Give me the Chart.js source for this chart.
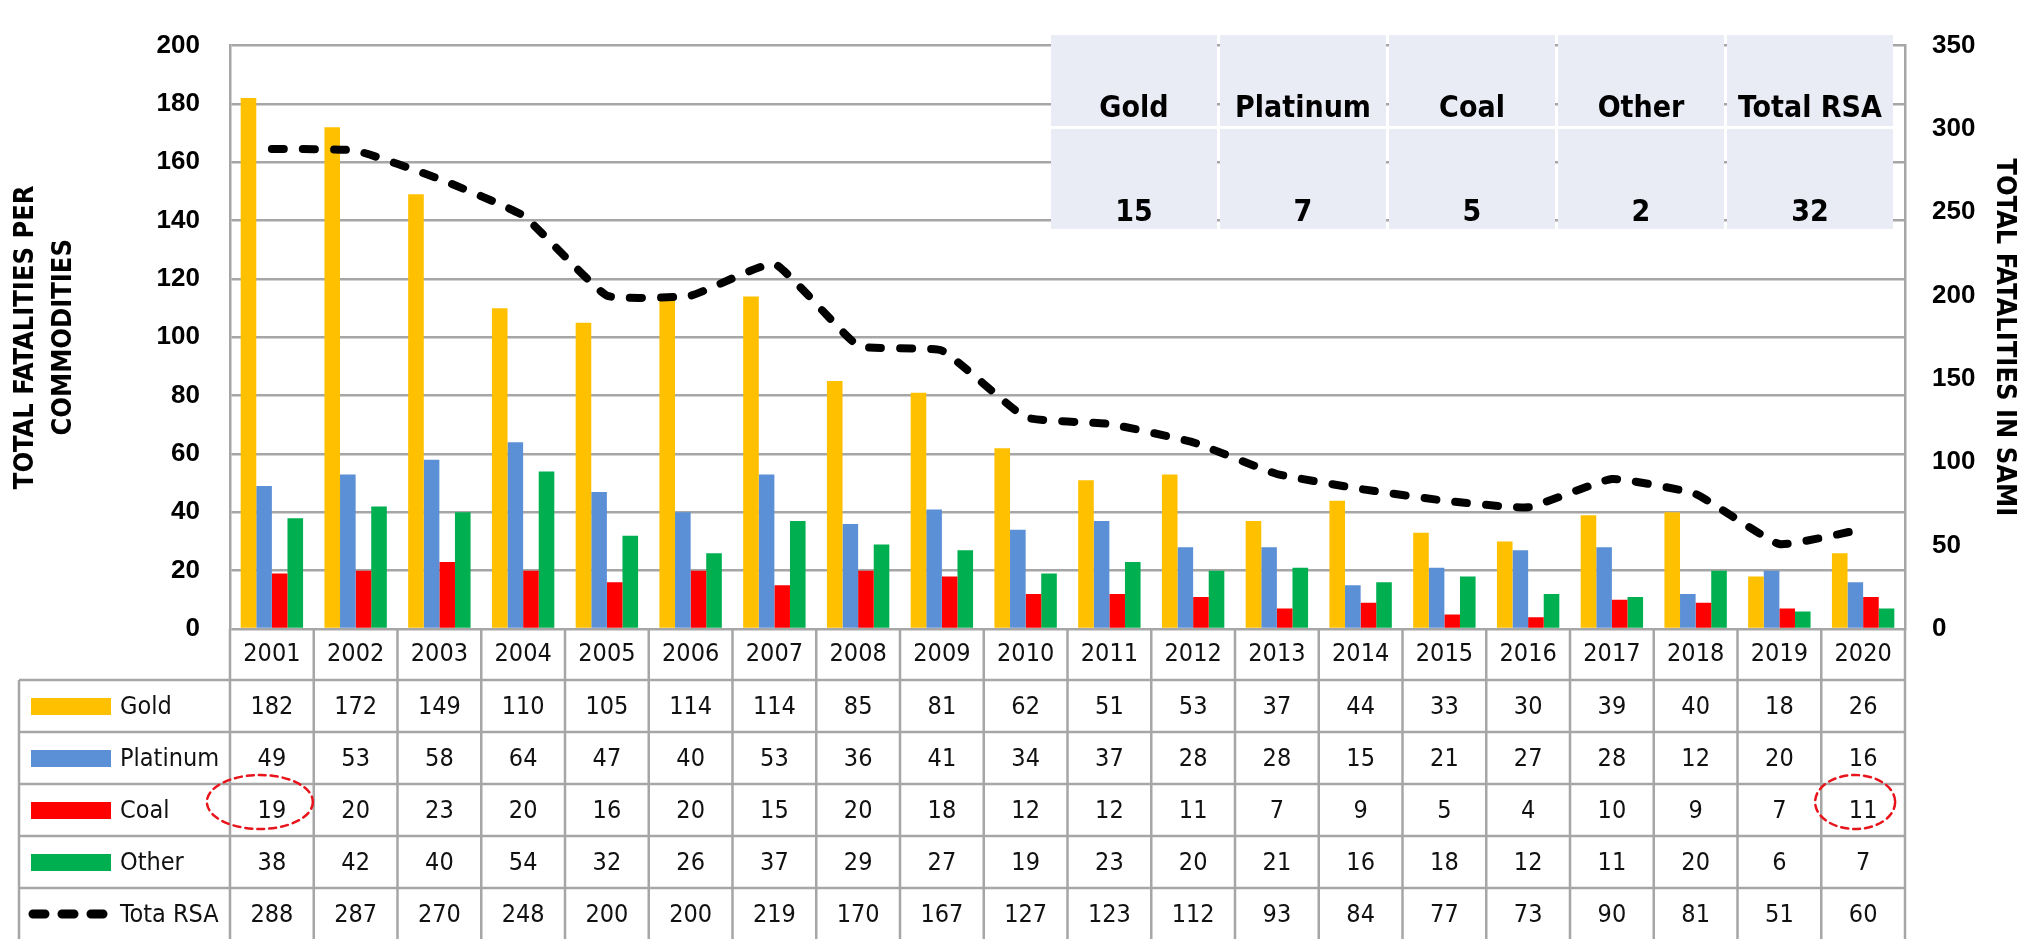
<!DOCTYPE html>
<html>
<head>
<meta charset="utf-8">
<script src="https://cdn.jsdelivr.net/npm/chart.js@4.4.1/dist/chart.umd.min.js"></script>
<style>
  html, body { margin: 0; padding: 0; background: #fff; }
  #wrap { width: 2030px; height: 939px; }
</style>
</head>
<body>
<div id="wrap"><canvas id="fatalities-chart" width="2030" height="939"></canvas></div>
<script>
// data
const years = ['2001', '2002', '2003', '2004', '2005', '2006', '2007', '2008', '2009', '2010',
               '2011', '2012', '2013', '2014', '2015', '2016', '2017', '2018', '2019', '2020'];
const gold     = [182, 172, 149, 110, 105, 114, 114, 85, 81, 62, 51, 53, 37, 44, 33, 30, 39, 40, 18, 26];
const platinum = [49, 53, 58, 64, 47, 40, 53, 36, 41, 34, 37, 28, 28, 15, 21, 27, 28, 12, 20, 16];
const coal     = [19, 20, 23, 20, 16, 20, 15, 20, 18, 12, 12, 11, 7, 9, 5, 4, 10, 9, 7, 11];
const other    = [38, 42, 40, 54, 32, 26, 37, 29, 27, 19, 23, 20, 21, 16, 18, 12, 11, 20, 6, 7];
const totalRSA = [288, 287, 270, 248, 200, 200, 219, 170, 167, 127, 123, 112, 93, 84, 77, 73, 90, 81, 51, 60];

const rowLabels = ['Gold', 'Platinum', 'Coal', 'Other', 'Tota RSA'];
const insetLabels = ['Gold', 'Platinum', 'Coal', 'Other', 'Total RSA'];
const insetValues = [15, 7, 5, 2, 32];
const circledCells = [[2, 0], [2, 19]]; // [row, column] of the red rings

const colors = ['#FFC000', '#5B8FD6', '#FF0000', '#00B050', '#000000'];
const gridGrey = '#A6A6A6';
const condensed = "'DejaVu Sans Condensed', 'DejaVu Sans', sans-serif";

// table under the chart + inset table + red rings
const tablePlugin = {
    id: 'dataTable',
    afterDatasetsDraw(chart) {
        const ctx = chart.ctx;
        // inset summary table, top right
        const left = 1051, top = 35, colW = 166, gap = 3;
        ctx.save();
        for (let i = 0; i < insetLabels.length; i++) {
            const x = left + i * (colW + gap);
            ctx.fillStyle = '#E9EBF5';
            ctx.fillRect(x, top, colW, 91);
            ctx.fillRect(x, top + 94, colW, 100);
            ctx.fillStyle = '#000';
            ctx.font = 'bold 30px ' + condensed;
            ctx.textAlign = 'center';
            ctx.textBaseline = 'alphabetic';
            ctx.fillText(insetLabels[i], x + colW / 2, top + 82);
            ctx.fillText(String(insetValues[i]), x + colW / 2, top + 186);
        }
        ctx.restore();
    },
    afterDraw(chart) {
        const { ctx, chartArea } = chart;
        const xs = chart.scales.x;
        const series = [gold, platinum, coal, other, totalRSA];
        const colW = chartArea.width / years.length;
        const yearTop = chartArea.bottom;
        const yearBottom = yearTop + 51;
        const rowH = 52;
        const tableLeft = 19;

        ctx.save();
        ctx.strokeStyle = gridGrey;
        ctx.lineWidth = 2.5;
        ctx.beginPath();
        for (let r = 0; r < series.length; r++) {
            const y = yearBottom + r * rowH;
            ctx.moveTo(tableLeft, y);
            ctx.lineTo(chartArea.right, y);
        }
        for (let i = 0; i <= years.length; i++) {
            const x = chartArea.left + i * colW;
            ctx.moveTo(x, yearTop);
            ctx.lineTo(x, chart.height);
        }
        ctx.moveTo(tableLeft, yearBottom);
        ctx.lineTo(tableLeft, chart.height);
        ctx.stroke();

        ctx.font = '25px ' + condensed;
        ctx.textBaseline = 'middle';
        for (let r = 0; r < series.length; r++) {
            const cy = yearBottom + r * rowH + rowH / 2;
            // legend key
            if (r < 4) {
                ctx.fillStyle = colors[r];
                ctx.fillRect(31, cy - 8, 80, 17);
            } else {
                ctx.strokeStyle = '#000';
                ctx.lineWidth = 9;
                ctx.lineCap = 'round';
                ctx.setLineDash([12, 17]);
                ctx.beginPath();
                ctx.moveTo(33, cy);
                ctx.lineTo(108, cy);
                ctx.stroke();
                ctx.setLineDash([]);
            }
            ctx.fillStyle = '#111';
            ctx.textAlign = 'left';
            ctx.fillText(rowLabels[r], 120, cy + 1);
            ctx.textAlign = 'center';
            series[r].forEach((v, i) => {
                ctx.fillText(String(v), xs.getPixelForValue(i), cy + 1);
            });
        }

        // red dashed rings
        ctx.strokeStyle = '#E8141B';
        ctx.lineWidth = 2.5;
        ctx.setLineDash([7, 5]);
        circledCells.forEach(([r, c]) => {
            const cx = xs.getPixelForValue(c) - (c === 0 ? 12 : 8);
            const cy = yearBottom + r * rowH + rowH / 2 - 8;
            const rx = c === 0 ? 53 : 40;
            ctx.beginPath();
            ctx.ellipse(cx, cy, rx, 27, 0, 0, Math.PI * 2);
            ctx.stroke();
        });
        ctx.restore();
    }
};

const ctx = document.getElementById('fatalities-chart').getContext('2d');
const fatalitiesChart = new Chart(ctx, {
    data: {
        labels: years,
        datasets: [
            {
                type: 'line',
                label: 'Tota RSA',
                data: totalRSA,
                yAxisID: 'y1',
                borderColor: '#000',
                borderWidth: 8,
                borderDash: [12, 19],
                borderCapStyle: 'round',
                borderJoinStyle: 'round',
                pointRadius: 0,
                tension: 0.12,
                fill: false,
                order: 0
            },
            { type: 'bar', label: 'Gold', data: gold, backgroundColor: colors[0], order: 1 },
            { type: 'bar', label: 'Platinum', data: platinum, backgroundColor: colors[1], order: 1 },
            { type: 'bar', label: 'Coal', data: coal, backgroundColor: colors[2], order: 1 },
            { type: 'bar', label: 'Other', data: other, backgroundColor: colors[3], order: 1 }
        ]
    },
    options: {
        responsive: false,
        animation: false,
        devicePixelRatio: 1,
        layout: { padding: { top: 20, left: 0, right: 0, bottom: 0 } },
        datasets: {
            bar: { categoryPercentage: 0.745, barPercentage: 1.0, borderWidth: 0 }
        },
        scales: {
            x: {
                grid: { display: false, drawTicks: false },
                border: { display: false },
                ticks: {
                    color: '#111',
                    padding: 10,
                    maxRotation: 0,
                    font: { family: condensed, size: 25 }
                },
                afterFit(scale) { scale.height = 310; }
            },
            y: {
                position: 'left',
                min: 0,
                max: 200,
                ticks: {
                    stepSize: 20,
                    color: '#000',
                    padding: 30,
                    font: { family: "'Liberation Sans', Arial, sans-serif", size: 26, weight: 'bold' }
                },
                grid: { color: gridGrey, lineWidth: 2.5, drawTicks: false },
                border: { display: true, color: gridGrey, width: 2.5 },
                title: {
                    display: true,
                    text: ['TOTAL FATALITIES PER', 'COMMODITIES'],
                    color: '#000',
                    padding: { top: 7, bottom: 0 },
                    font: { family: condensed, size: 27, weight: 'bold', lineHeight: 1.4 }
                },
                afterFit(scale) { scale.width = 230; }
            },
            y1: {
                position: 'right',
                min: 0,
                max: 350,
                ticks: {
                    stepSize: 50,
                    color: '#000',
                    padding: 27,
                    font: { family: "'Liberation Sans', Arial, sans-serif", size: 26, weight: 'bold' }
                },
                grid: { drawOnChartArea: false, drawTicks: false },
                border: { display: true, color: gridGrey, width: 2.5 },
                title: {
                    display: true,
                    text: 'TOTAL FATALITIES IN SAMI',
                    color: '#000',
                    padding: { top: 10, bottom: 0 },
                    font: { family: condensed, size: 27, weight: 'bold' }
                },
                afterFit(scale) { scale.width = 125; }
            }
        },
        plugins: {
            legend: { display: false },
            tooltip: { enabled: false }
        }
    },
    plugins: [tablePlugin]
});
</script>
</body>
</html>
